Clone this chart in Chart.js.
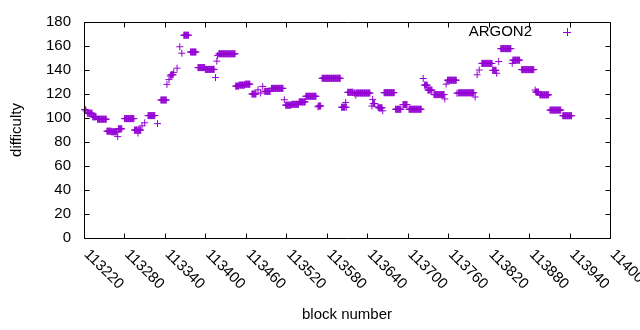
<!DOCTYPE html>
<html><head><meta charset="utf-8">
<script src="https://cdn.jsdelivr.net/npm/chart.js@4/dist/chart.umd.min.js"></script>
<style>html,body{margin:0;padding:0;background:#fff}#wrap{width:640px;height:330px}</style>
</head><body><div id="wrap"><canvas id="c" width="640" height="330"></canvas></div>
<script>
const seriesName = 'ARGON2';
const xTitle = 'block number';
const yTitle = 'difficulty';
const xTickLabels = ['113220','113280','113340','113400','113460','113520','113580','113640','113700','113760','113820','113880','113940','114000'];
const yTickLabels = ['0','20','40','60','80','100','120','140','160','180'];
// runs of blocks sharing the same difficulty
const runStart = [113221,113223,113225,113233,113240,113254,113261,113270,113271,113280,113295,113300,113301,113306,113310,113315,113329,113334,113343,113346,113348,113349,113353,113358,113362,113365,113368,113378,113389,113400,113415,113417,113418,113420,113445,113450,113459,113469,113478,113482,113485,113488,113498,113517,113519,113528,113539,113549,113567,113568,113573,113602,113608,113609,113611,113621,113623,113624,113647,113648,113649,113656,113657,113663,113665,113682,113693,113702,113723,113725,113730,113739,113755,113757,113759,113773,113775,113800,113803,113806,113810,113826,113832,113835,113838,113855,113856,113869,113889,113890,113896,113911,113930];
const runEnd   = [113222,113223,113232,113238,113253,113260,113269,113270,113276,113294,113299,113300,113304,113306,113310,113325,113329,113342,113343,113346,113348,113352,113353,113358,113362,113365,113375,113386,113399,113413,113415,113417,113418,113444,113449,113458,113466,113475,113478,113482,113485,113496,113515,113517,113527,113538,113548,113564,113567,113571,113600,113607,113608,113609,113619,113622,113623,113644,113647,113648,113651,113656,113662,113663,113680,113690,113699,113720,113723,113729,113736,113754,113755,113757,113772,113773,113798,113800,113803,113806,113825,113831,113832,113835,113853,113855,113866,113887,113889,113894,113909,113927,113943];
const runValue = [107,106,104,101,99,89,88.5,84.5,91,99.5,90,87.5,90,93.5,96,102,95.3,115,128,132,135,136,138,141.5,159.4,154,169,155,142,140.5,133.7,147.4,152,153.5,126.6,127.4,128.2,120,123.5,120.8,126.3,122.2,124.7,115.2,110.7,111.4,113.4,118.1,109.3,110,133.1,109,113,109,121.4,120.8,119,120.8,110,115.5,112,109.3,108.5,106,121.1,107.3,111.2,107.3,132.9,127.4,123.3,119.5,115.9,128.2,131.5,120.6,121,117.5,136,140,145.5,139.7,137.3,147.1,157.8,145.5,148.2,140.3,123.3,121.6,119.3,106.6,101.9];

const points = [];
for (let i = 0; i < runStart.length; i++) {
  for (let b = runStart[i]; b <= runEnd[i]; b++) points.push({x: b, y: runValue[i]});
}

const FONT = "'Liberation Sans', Arial, sans-serif";
const COLOR = '#9400d3';

const deco = {
  id: 'deco',
  afterDraw(chart) {
    const ctx = chart.ctx, a = chart.chartArea;
    const xs = chart.scales.x, ys = chart.scales.y;
    const L = Math.round(a.left) + 0.5, R = Math.round(a.right) + 0.5;
    const T = Math.round(a.top) + 0.5, B = Math.round(a.bottom) + 0.5;
    ctx.save();
    ctx.strokeStyle = '#000'; ctx.lineWidth = 1;
    ctx.beginPath();
    ctx.rect(L, T, R - L, B - T);
    yTickLabels.forEach(t => {
      const y = Math.round(ys.getPixelForValue(Number(t))) + 0.5;
      ctx.moveTo(L, y); ctx.lineTo(L + 5, y);
      ctx.moveTo(R, y); ctx.lineTo(R - 5, y);
    });
    xTickLabels.forEach(t => {
      const x = Math.round(xs.getPixelForValue(Number(t))) + 0.5;
      ctx.moveTo(x, B); ctx.lineTo(x, B - 5);
      ctx.moveTo(x, T); ctx.lineTo(x, T + 5);
    });
    ctx.stroke();
    ctx.fillStyle = '#000';
    ctx.font = '15px ' + FONT;
    ctx.textAlign = 'left'; ctx.textBaseline = 'middle';
    xTickLabels.forEach(t => {
      const x = xs.getPixelForValue(Number(t));
      ctx.save();
      ctx.translate(x + 2.5, a.bottom + 14);
      ctx.rotate(Math.PI / 4);
      ctx.fillText(t, 0, 0);
      ctx.restore();
    });
    // legend
    ctx.textAlign = 'right';
    ctx.fillText(seriesName, 532, 32);
    ctx.strokeStyle = COLOR;
    ctx.beginPath();
    ctx.moveTo(563, 32.5); ctx.lineTo(571, 32.5);
    ctx.moveTo(567.5, 28); ctx.lineTo(567.5, 36);
    ctx.stroke();
    ctx.restore();
  }
};

new Chart(document.getElementById('c'), {
  type: 'scatter',
  data: { datasets: [{
    label: seriesName, data: points, pointStyle: 'cross', pointRadius: 3.5,
    pointHoverRadius: 3.5, borderColor: COLOR, backgroundColor: COLOR,
    borderWidth: 1, showLine: false, clip: false
  }]},
  options: {
    responsive: false, animation: false, devicePixelRatio: 1,
    layout: { padding: { top: 19, right: 30, left: 0, bottom: 0 } },
    plugins: { legend: { display: false }, tooltip: { enabled: false } },
    scales: {
      x: {
        type: 'linear', min: 113220, max: 114000,
        ticks: { display: false, stepSize: 60 },
        grid: { display: false, drawTicks: false }, border: { display: false },
        title: { display: true, text: xTitle, color: '#000', font: { size: 15, family: FONT }, padding: { top: 0, bottom: 6 } },
        afterFit: s => { s.height = 92; }
      },
      y: {
        min: 0, max: 180,
        ticks: { stepSize: 20, color: '#000', font: { size: 15, family: FONT }, padding: 13 },
        grid: { display: false, drawTicks: false }, border: { display: false },
        title: { display: true, text: yTitle, color: '#000', font: { size: 15, family: FONT }, padding: { top: 8, bottom: 0 } },
        afterFit: s => { s.width = 84; }
      }
    }
  },
  plugins: [deco]
});
</script></body></html>
